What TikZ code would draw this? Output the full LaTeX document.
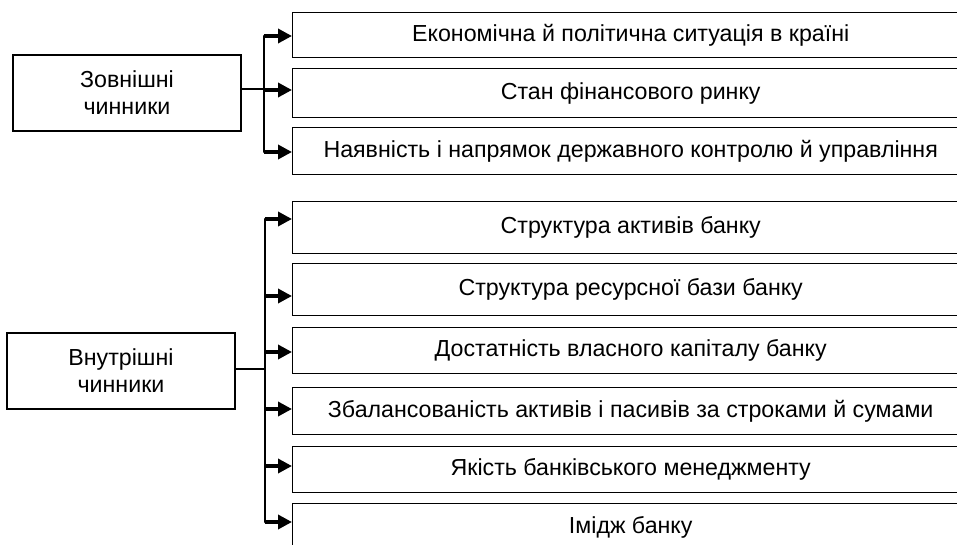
\documentclass[tikz,border=0pt]{standalone}
\usepackage{fontspec}
\setmainfont{Liberation Sans}
\usetikzlibrary{arrows.meta}
\begin{document}
\begin{tikzpicture}[x=1pt,y=-1pt,
  box/.style={draw, line width=1.4pt, inner sep=0pt, align=center,
    font=\fontsize{23.2}{27}\selectfont},
  fbox/.style={box, anchor=north west, minimum width=676pt},
  arr/.style={line width=3.4pt, -{Triangle[length=14pt,width=14pt]}},
  bus/.style={line width=2pt, line cap=round},
  link/.style={line width=1.1pt}]
\useasboundingbox (0,0) rectangle (957,545);
\clip (0,0) rectangle (957,545);
% left boxes
\node[box, minimum width=228pt, minimum height=76pt] (z) at (127,93) {Зовнішні\\чинники};
\node[box, minimum width=228pt, minimum height=76pt] (v) at (121,371) {Внутрішні\\чинники};
% top group
\node[fbox, minimum height=45pt] (t1) at (292,12) {Економічна й політична ситуація в країні};
\node[fbox, minimum height=49pt] (t2) at (292,68) {Стан фінансового ринку};
\node[fbox, minimum height=47pt] (t3) at (292,127) {Наявність і напрямок державного контролю й управління};
% bottom group
\node[fbox, minimum height=52pt] (b1) at (292,201) {Структура активів банку};
\node[fbox, minimum height=52pt] (b2) at (292,263) {Структура ресурсної бази банку};
\node[fbox, minimum height=46pt] (b3) at (292,327) {Достатність власного капіталу банку};
\node[fbox, minimum height=47pt] (b4) at (292,387) {Збалансованість активів і пасивів за строками й сумами};
\node[fbox, minimum height=46pt] (b5) at (292,446) {Якість банківського менеджменту};
\node[fbox, minimum height=48pt] (b6) at (292,503) {Імідж банку};
% bus coordinates
\coordinate (ta1) at (264,36);
\coordinate (ta2) at (264,90);
\coordinate (ta3) at (264,152);
\coordinate (ba1) at (265,219);
\coordinate (ba2) at (265,296);
\coordinate (ba3) at (265,352);
\coordinate (ba4) at (265,409);
\coordinate (ba5) at (265,466);
\coordinate (ba6) at (265,522);
\coordinate (zj) at (264,89);
\coordinate (vj) at (265,369);
% buses
\draw[bus] (ta1) -- (ta3);
\draw[bus] (ba1) -- (ba6);
\draw[link] (zj -| z.east) -- (zj);
\draw[link] (vj -| v.east) -- (vj);
% arrows
\foreach \a/\b in {ta1/t1, ta2/t2, ta3/t3, ba1/b1, ba2/b2, ba3/b3, ba4/b4, ba5/b5, ba6/b6}
  \draw[arr] (\a) -- (\a -| \b.west);
\end{tikzpicture}
\end{document}
